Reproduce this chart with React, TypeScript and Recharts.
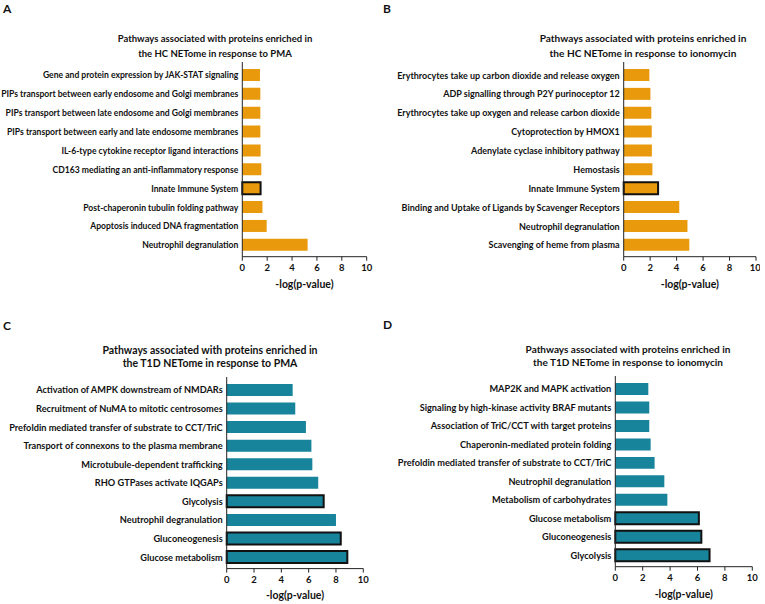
import { BarChart, Bar, XAxis, YAxis, Cell } from 'recharts';

const GOLD = '#E8990C';
const TEAL = '#17849B';
const FONT = 'Lato, "Open Sans", sans-serif';

const ticks = [0, 2, 4, 6, 8, 10];

// A: HC NETome, PMA
const hcPmaPathways = [
  'Gene and protein expression by JAK-STAT signaling',
  'PIPs transport between early endosome and Golgi membranes',
  'PIPs transport between late endosome and Golgi membranes',
  'PIPs transport between early and late endosome membranes',
  'IL-6-type cytokine receptor ligand interactions',
  'CD163 mediating an anti-inflammatory response',
  'Innate Immune System',
  'Post-chaperonin tubulin folding pathway',
  'Apoptosis induced DNA fragmentation',
  'Neutrophil degranulation',
];
const hcPmaScores = [1.42, 1.45, 1.45, 1.45, 1.47, 1.53, 1.47, 1.62, 1.96, 5.25];
const hcPmaBoxed = ['Innate Immune System'];

// B: HC NETome, ionomycin
const hcIonoPathways = [
  'Erythrocytes take up carbon dioxide and release oxygen',
  'ADP signalling through P2Y purinoceptor 12',
  'Erythrocytes take up oxygen and release carbon dioxide',
  'Cytoprotection by HMOX1',
  'Adenylate cyclase inhibitory pathway',
  'Hemostasis',
  'Innate Immune System',
  'Binding and Uptake of Ligands by Scavenger Receptors',
  'Neutrophil degranulation',
  'Scavenging of heme from plasma',
];
const hcIonoScores = [1.94, 2.02, 2.09, 2.12, 2.13, 2.17, 2.6, 4.2, 4.82, 4.96];
const hcIonoBoxed = ['Innate Immune System'];

// C: T1D NETome, PMA
const t1dPmaPathways = [
  'Activation of AMPK downstream of NMDARs',
  'Recruitment of NuMA to mitotic centrosomes',
  'Prefoldin mediated transfer of substrate to CCT/TriC',
  'Transport of connexons to the plasma membrane',
  'Microtubule-dependent trafficking',
  'RHO GTPases activate IQGAPs',
  'Glycolysis',
  'Neutrophil degranulation',
  'Gluconeogenesis',
  'Glucose metabolism',
];
const t1dPmaScores = [4.83, 5.02, 5.8, 6.2, 6.27, 6.7, 7.1, 8.0, 8.35, 8.83];
const t1dPmaBoxed = ['Glycolysis', 'Gluconeogenesis', 'Glucose metabolism'];

// D: T1D NETome, ionomycin
const t1dIonoPathways = [
  'MAP2K and MAPK activation',
  'Signaling by high-kinase activity BRAF mutants',
  'Association of TriC/CCT with target proteins',
  'Chaperonin-mediated protein folding',
  'Prefoldin mediated transfer of substrate to CCT/TriC',
  'Neutrophil degranulation',
  'Metabolism of carbohydrates',
  'Glucose metabolism',
  'Gluconeogenesis',
  'Glycolysis',
];
const t1dIonoScores = [2.41, 2.48, 2.48, 2.58, 2.87, 3.58, 3.8, 6.1, 6.28, 6.88];
const t1dIonoBoxed = ['Glucose metabolism', 'Gluconeogenesis', 'Glycolysis'];

interface PanelProps {
  letter: string;
  title: string[];
  pathways: string[];
  scores: number[];
  boxed: string[];
  color: string;
  panelX: number;
  plotLeft: number;
  plotRight: number;
  plotTop: number;
  plotBottom: number;
  titleX: number;
  titleY: number;
  titleLine: number;
  titleSize: number;
  labelSize: number;
  labelBaseline: number;
  letterY: number;
}

// single-line category label (recharts would wrap long names otherwise)
const PathwayTick = (props: any) => {
  const { x, y, payload, fontSize } = props;
  return (
    <text
      x={x}
      y={y}
      dy="0.35em"
      textAnchor="end"
      fontSize={fontSize}
      fontWeight={700}
      fontFamily={FONT}
      fill="#111"
    >
      {payload.value}
    </text>
  );
};

function Panel(p: PanelProps) {
  const data = p.pathways.map((name, i) => ({ name, value: p.scores[i] }));
  const marginTop = 2;
  const axisHeight = 38;
  const width = 380;
  const height = marginTop + (p.plotBottom - p.plotTop) + axisHeight;
  const yAxisWidth = p.plotLeft - p.panelX;

  return (
    <>
      <div
        style={{
          position: 'absolute',
          left: p.panelX + 3,
          top: p.letterY - 8,
          fontSize: 12,
          fontWeight: 700,
          lineHeight: '16px',
          fontFamily: FONT,
          color: '#111',
        }}
      >
        {p.letter}
      </div>
      <div
        style={{
          position: 'absolute',
          left: p.titleX - 150,
          width: 300,
          top: p.titleY - p.titleLine,
          textAlign: 'center',
          fontSize: p.titleSize,
          fontWeight: 700,
          lineHeight: `${p.titleLine}px`,
          fontFamily: FONT,
          color: '#111',
          whiteSpace: 'nowrap',
        }}
      >
        {p.title.map((t) => (
          <div key={t}>{t}</div>
        ))}
      </div>
      <div style={{ position: 'absolute', left: p.panelX, top: p.plotTop - marginTop }}>
        <BarChart
          width={width}
          height={height}
          data={data}
          layout="vertical"
          margin={{ top: marginTop, right: p.panelX + width - p.plotRight, bottom: 0, left: 0 }}
        >
          <XAxis
            type="number"
            domain={[0, 10]}
            ticks={ticks}
            height={axisHeight}
            stroke="#222"
            tickSize={4}
            tickMargin={4}
            tick={{ fontSize: 9.5, fill: '#111', fontWeight: 700, fontFamily: FONT }}
            label={{
              value: '-log(p-value)',
              position: 'insideBottom',
              offset: axisHeight - p.labelBaseline,
              fontSize: 10.5,
              fontWeight: 700,
              fill: '#111',
              fontFamily: FONT,
            }}
          />
          <YAxis
            type="category"
            dataKey="name"
            width={yAxisWidth}
            stroke="#222"
            tickLine={false}
            tickSize={2}
            tickMargin={2}
            padding={{ top: 4, bottom: 2 }}
            interval={0}
            tick={<PathwayTick fontSize={p.labelSize} />}
          />
          <Bar dataKey="value" barSize={12} isAnimationActive={false}>
            {data.map((d) => {
              const isBoxed = p.boxed.includes(d.name);
              return (
                <Cell
                  key={d.name}
                  fill={p.color}
                  stroke={isBoxed ? '#111' : 'none'}
                  strokeWidth={isBoxed ? 2 : 0}
                />
              );
            })}
          </Bar>
        </BarChart>
      </div>
    </>
  );
}

export default function App() {
  return (
    <div
      style={{
        position: 'absolute',
        left: 0,
        top: 0,
        width: 765,
        height: 604,
        background: '#fff',
        overflow: 'hidden',
      }}
    >
      <Panel
        letter="A"
        title={['Pathways associated with proteins enriched in', 'the HC NETome in response to PMA']}
        pathways={hcPmaPathways}
        scores={hcPmaScores}
        boxed={hcPmaBoxed}
        color={GOLD}
        panelX={0}
        plotLeft={242.3}
        plotRight={366.7}
        plotTop={62}
        plotBottom={256.7}
        titleX={215}
        titleY={45.5}
        titleLine={15}
        titleSize={9.5}
        labelSize={8.6}
        labelBaseline={31.5}
        letterY={9}
      />
      <Panel
        letter="B"
        title={['Pathways associated with proteins enriched in', 'the HC NETome in response to ionomycin']}
        pathways={hcIonoPathways}
        scores={hcIonoScores}
        boxed={hcIonoBoxed}
        color={GOLD}
        panelX={380}
        plotLeft={623.7}
        plotRight={756}
        plotTop={62}
        plotBottom={256.7}
        titleX={643}
        titleY={45.5}
        titleLine={15}
        titleSize={10.1}
        labelSize={9}
        labelBaseline={31.5}
        letterY={9}
      />
      <Panel
        letter="C"
        title={['Pathways associated with proteins enriched in', 'the T1D NETome in response to PMA']}
        pathways={t1dPmaPathways}
        scores={t1dPmaScores}
        boxed={t1dPmaBoxed}
        color={TEAL}
        panelX={0}
        plotLeft={226.7}
        plotRight={363.3}
        plotTop={376.7}
        plotBottom={568.3}
        titleX={210}
        titleY={356.5}
        titleLine={13}
        titleSize={10.5}
        labelSize={9.2}
        labelBaseline={30}
        letterY={326}
      />
      <Panel
        letter="D"
        title={['Pathways associated with proteins enriched in', 'the T1D NETome in response to ionomycin']}
        pathways={t1dIonoPathways}
        scores={t1dIonoScores}
        boxed={t1dIonoBoxed}
        color={TEAL}
        panelX={380}
        plotLeft={615.3}
        plotRight={752.3}
        plotTop={376}
        plotBottom={566.7}
        titleX={628}
        titleY={355.5}
        titleLine={13}
        titleSize={10}
        labelSize={9.2}
        labelBaseline={31}
        letterY={325}
      />
    </div>
  );
}
